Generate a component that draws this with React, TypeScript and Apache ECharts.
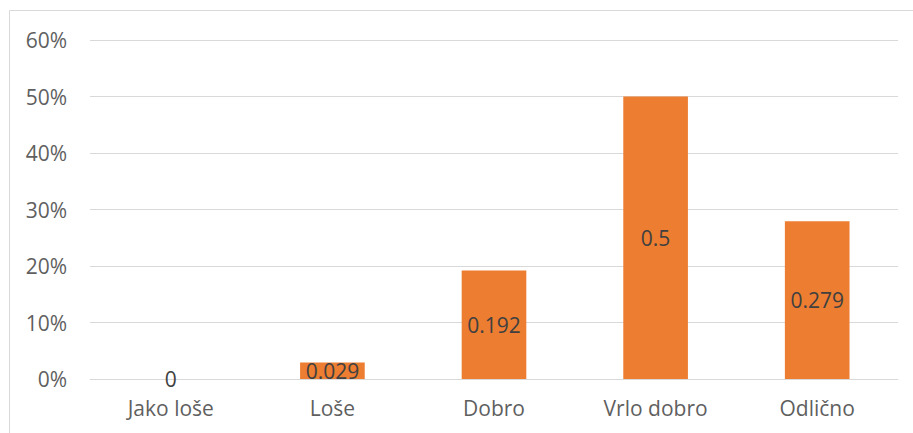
import React, { useEffect, useRef } from "react";
import * as echarts from "echarts";

const categories = ["Jako loše", "Loše", "Dobro", "Vrlo dobro", "Odlično"];
const values = [0, 0.029, 0.192, 0.5, 0.279];
const yTicks = [0, 0.1, 0.2, 0.3, 0.4, 0.5, 0.6];

const FONT = "Open Sans";

export default function App() {
  const ref = useRef<HTMLDivElement>(null);
  useEffect(() => {
    if (!ref.current) return;
    const chart = echarts.init(ref.current, undefined, { renderer: "svg" });
    chart.setOption({
      animation: false,
      backgroundColor: "#ffffff",
      graphic: [
        {
          type: "rect",
          shape: { x: 9.5, y: 10.5, width: 920, height: 440 },
          style: { fill: "none", stroke: "#D9D9D9", lineWidth: 1 },
          silent: true,
        },
      ],
      grid: { left: 90, right: 15, top: 40, bottom: 54, containLabel: false },
      xAxis: {
        type: "category",
        data: categories,
        axisLine: { lineStyle: { color: "#D9D9D9", width: 1 } },
        axisTick: { show: false },
        axisLabel: {
          color: "#5f5f5f",
          fontFamily: FONT,
          fontSize: 21,
          margin: 18,
        },
      },
      yAxis: {
        type: "value",
        min: yTicks[0],
        max: yTicks[yTicks.length - 1],
        interval: 0.1,
        axisLine: { show: false },
        axisTick: { show: false },
        splitLine: { lineStyle: { color: "#D9D9D9", width: 1 } },
        axisLabel: {
          color: "#5f5f5f",
          fontFamily: FONT,
          fontSize: 21,
          margin: 23,
          formatter: (v: number) => Math.round(v * 100) + "%",
        },
      },
      series: [
        {
          type: "bar",
          data: values,
          barWidth: "40%",
          itemStyle: { color: "#ED7D31" },
          label: {
            show: true,
            position: "inside",
            color: "#404040",
            fontFamily: FONT,
            fontSize: 21,
            formatter: (p: any) => String(p.value),
          },
        },
      ],
    });
    return () => chart.dispose();
  }, []);
  return (
    <div
      ref={ref}
      style={{ position: "fixed", left: 0, top: 0, width: 913, height: 433 }}
    />
  );
}
